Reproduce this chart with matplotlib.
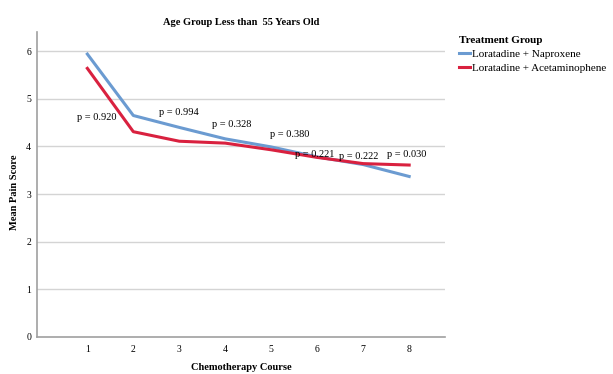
import matplotlib.pyplot as plt
from matplotlib.lines import Line2D

plt.rcParams['font.family'] = ['Liberation Serif', 'DejaVu Serif']

courses = [1, 2, 3, 4, 5, 6, 7, 8]
naproxene = [5.94, 4.65, 4.40, 4.16, 3.99, 3.78, 3.62, 3.37]
acetaminophen = [5.64, 4.31, 4.11, 4.07, 3.93, 3.77, 3.64, 3.61]
p_labels = ['p = 0.920', 'p = 0.994', 'p = 0.328', 'p = 0.380',
            'p = 0.221', 'p = 0.222', 'p = 0.030']
p_x = [1.2, 3.0, 4.15, 5.4, 5.95, 6.9, 7.95]
p_y = [4.6, 4.72, 4.46, 4.26, 3.83, 3.79, 3.83]

blue = '#6b9bd1'
red = '#d9213f'

fig = plt.figure(figsize=(6.13, 3.74), dpi=100)
ax = fig.add_axes([0.060, 0.099, 0.666, 0.815])

for y in range(1, 7):
    ax.axhline(y, color='#d4d4d4', lw=1, zorder=0)

ax.plot(courses, naproxene, color=blue, lw=2.2, label='Loratadine + Naproxene')
ax.plot(courses, acetaminophen, color=red, lw=2.2, label='Loratadine + Acetaminophene')

for lab, x, y in zip(p_labels, p_x, p_y):
    ax.text(x, y, lab, fontsize=7.5, ha='center', va='center')

ax.set_xlim(-0.1, 8.78)
ax.set_ylim(0, 6.4)
ax.set_xticks(courses)
ax.set_yticks(range(0, 7))
ax.tick_params(axis='both', length=0, labelsize=7)
ax.tick_params(axis='x', pad=6)
ax.tick_params(axis='y', pad=4)
for s in ['top', 'right']:
    ax.spines[s].set_visible(False)
for s in ['left', 'bottom']:
    ax.spines[s].set_color('#a0a0a0')
    ax.spines[s].set_linewidth(1.2)

ax.set_title('Age Group Less than  55 Years Old', fontsize=7.5, fontweight='bold', pad=5)
fig.text(241 / 613, 1 - 367 / 374, 'Chemotherapy Course', fontsize=7.5,
         fontweight='bold', ha='center', va='center')
fig.text(15 / 613, 1 - 192 / 374, 'Mean Pain Score', fontsize=7.5,
         fontweight='bold', ha='center', va='center', rotation=90)

handles = [Line2D([], [], color=blue, lw=2.2), Line2D([], [], color=red, lw=2.2)]
leg = fig.legend(handles, ['Loratadine + Naproxene', 'Loratadine + Acetaminophene'],
                 title='Treatment Group', loc='upper left', bbox_to_anchor=(0.742, 0.915),
                 frameon=False, fontsize=8, title_fontsize=8,
                 handlelength=1.0, handletextpad=0.1, borderaxespad=0, labelspacing=0.35)
leg.get_title().set_fontweight('bold')
leg._legend_box.align = 'left'

fig.savefig('out.png', dpi=100)
